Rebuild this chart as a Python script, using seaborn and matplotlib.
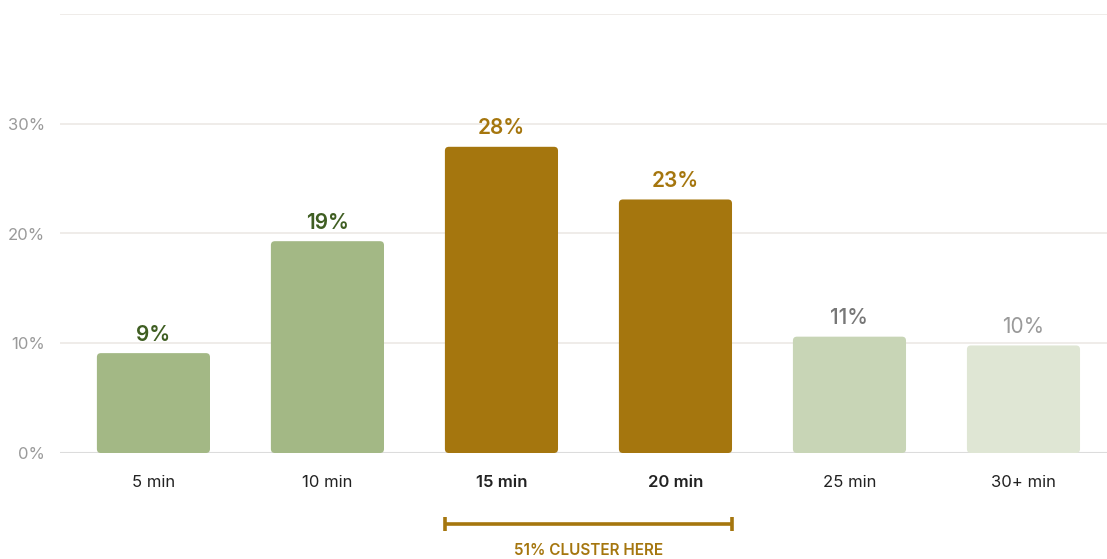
import matplotlib
matplotlib.use("Agg")
import matplotlib.pyplot as plt
import matplotlib.transforms as mtransforms
from matplotlib.patches import FancyBboxPatch
import pandas as pd
import seaborn as sns

# data
categories = ["5 min", "10 min", "15 min", "20 min", "25 min", "30+ min"]
shares = [9.1, 19.3, 27.9, 23.1, 10.6, 9.8]
share_labels = ["9%", "19%", "28%", "23%", "11%", "10%"]
yticks = [0, 10, 20, 30, 40]
ytick_labels = ["0%", "10%", "20%", "30%", ""]
cluster_text = "51% CLUSTER HERE"

bar_colors = ["#a3b885", "#a3b885", "#a5760e", "#a5760e", "#c8d5b6", "#dfe6d4"]
label_colors = ["#3f5e22", "#3f5e22", "#a5760e", "#a5760e", "#777777", "#9a9a9a"]
label_weights = ["semibold", "semibold", "semibold", "semibold", "medium", "normal"]
bold_ticks = ["15 min", "20 min"]

sns.set_style("white")
plt.rcParams["font.family"] = ["Inter", "DejaVu Sans"]

df = pd.DataFrame({"bucket": categories, "share": shares})

fig = plt.figure(figsize=(11.07, 5.59), dpi=100)
ax = fig.add_axes([60 / 1107, 106 / 559, 1 - 60 / 1107, 439 / 559])

sns.barplot(data=df, x="bucket", y="share", hue="bucket", order=categories,
            palette=dict(zip(categories, bar_colors)), width=0.65,
            saturation=1, legend=False, ax=ax)

ax.set_xlim(-0.537, 5.48)
ax.set_ylim(0, 40)

# swap plain rectangles for rounded ones
px_x = 174.0
px_y = 439 / 40
r = 4 / px_x
for p in list(ax.patches):
    x0, y0 = p.get_x(), p.get_y()
    w, h = p.get_width(), p.get_height()
    fc = p.get_facecolor()
    p.remove()
    ax.add_patch(FancyBboxPatch((x0, y0), w, h,
                                boxstyle=f"round,pad=0,rounding_size={r}",
                                mutation_aspect=px_x / px_y,
                                facecolor=fc, edgecolor="none", zorder=2))

for i, (v, lab) in enumerate(zip(shares, share_labels)):
    ax.annotate(lab, (i, v), xytext=(0, 9), textcoords="offset points",
                ha="center", va="baseline", fontsize=15,
                color=label_colors[i], fontweight=label_weights[i])

ax.set_yticks(yticks)
ax.set_yticklabels(ytick_labels)
ax.grid(axis="y", color="#eeebe7", linewidth=1.3)
ax.grid(axis="x", visible=False)
ax.set_axisbelow(True)
ax.axhline(0, color="#dcdcdc", linewidth=1.5, zorder=1)
sns.despine(ax=ax, left=True, bottom=True)

ax.tick_params(axis="y", length=0, pad=11, labelsize=12, labelcolor="#9a9a9a")
ax.tick_params(axis="x", length=0, pad=16, labelsize=12, labelcolor="#222222")
for t in ax.get_xticklabels():
    if t.get_text() in bold_ticks:
        t.set_fontweight("semibold")
ax.set_xlabel("")
ax.set_ylabel("")

# bracket under the 15 and 20 min bars
trans = mtransforms.blended_transform_factory(ax.transData, ax.transAxes)
bx0 = 2 - 0.325
bx1 = 3 + 0.325
by = -0.1617
ax.plot([bx0, bx1], [by, by], color="#a5760e", lw=2.6, transform=trans,
        clip_on=False, solid_capstyle="butt")
for bx in (bx0, bx1):
    ax.plot([bx, bx], [by - 0.016, by + 0.016], color="#a5760e", lw=2.6,
            transform=trans, clip_on=False, solid_capstyle="butt")
ax.text(2.5, -0.221, cluster_text, transform=trans, ha="center", va="center",
        fontsize=11, fontweight="semibold", color="#a5760e")

fig.savefig("out.png", dpi=100)
